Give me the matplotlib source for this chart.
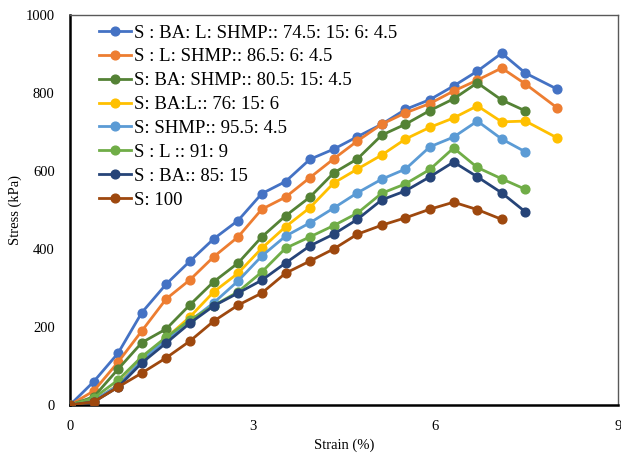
import matplotlib
matplotlib.use("Agg")
import matplotlib.pyplot as plt

strain = [0, 0.39, 0.79, 1.18, 1.58, 1.97, 2.36, 2.76, 3.15, 3.54, 3.94,
          4.33, 4.72, 5.12, 5.51, 5.91, 6.30, 6.69, 7.09, 7.48, 8.0]

labels = [
    "S : BA: L: SHMP:: 74.5: 15: 6: 4.5",
    "S : L: SHMP:: 86.5: 6: 4.5",
    "S: BA: SHMP:: 80.5: 15: 4.5",
    "S: BA:L:: 76: 15: 6",
    "S: SHMP:: 95.5: 4.5",
    "S : L :: 91: 9",
    "S : BA:: 85: 15",
    "S: 100",
]

s_ba_l_shmp = [0, 60, 133, 237, 310, 369, 426, 473, 542, 573, 630, 656, 688, 720,
               758, 783, 818, 856, 902, 851, 810]
s_l_shmp = [0, 36, 110, 190, 272, 321, 380, 431, 502, 533, 583, 631, 677, 720,
            749, 773, 805, 833, 864, 823, 762]
s_ba_shmp = [0, 21, 92, 160, 195, 257, 316, 364, 431, 485, 533, 595, 631, 692,
             720, 755, 785, 826, 782, 754]
s_ba_l = [0, 10, 52, 118, 172, 226, 290, 338, 402, 457, 506, 569, 605, 641,
          682, 712, 736, 767, 726, 728, 685]
s_shmp = [0, 12, 50, 115, 168, 215, 262, 318, 382, 433, 467, 505, 544, 579,
          605, 662, 687, 728, 682, 649]
s_l = [0, 18, 64, 124, 174, 218, 255, 290, 341, 402, 431, 460, 492, 543,
       567, 604, 659, 609, 580, 553]
s_ba = [0, 8, 46, 108, 159, 210, 254, 287, 320, 364, 408, 438, 476, 526,
        549, 585, 623, 585, 544, 495]
s_100 = [0, 8, 46, 82, 121, 164, 215, 256, 287, 338, 369, 400, 438, 461,
         480, 502, 520, 501, 476]

series = [s_ba_l_shmp, s_l_shmp, s_ba_shmp, s_ba_l, s_shmp, s_l, s_ba, s_100]
colors = ["#4472C4", "#ED7D31", "#548235", "#FFC000",
          "#5B9BD5", "#70AD47", "#264478", "#9E480E"]

plt.rcParams['font.family'] = ['Liberation Serif', 'DejaVu Serif']

fig = plt.figure(figsize=(6.21, 4.59), dpi=100)
ax = fig.add_axes([70/621, 1-405/459, 548/621, 390/459])

for ys, c, lab in zip(series, colors, labels):
    ax.plot(strain[:len(ys)], ys, color=c, lw=2.0, marker='o', ms=6.3,
            label=lab, zorder=3)

ax.set_xlim(0, 9)
ax.set_ylim(0, 1000)
ax.set_xticks([0, 3, 6, 9])
ax.set_yticks([0, 200, 400, 600, 800, 1000])
ax.tick_params(axis='y', length=0, labelsize=10.5, pad=11)
ax.tick_params(axis='x', length=0, labelsize=10.5, pad=11)
for side in ("left", "bottom"):
    ax.spines[side].set_linewidth(1.8)
    ax.spines[side].set_color("black")
for side in ("top", "right"):
    ax.spines[side].set_linewidth(1.0)
    ax.spines[side].set_color("#595959")

ax.set_xlabel("Strain (%)", fontsize=10.5)
ax.set_ylabel("Stress (kPa)", fontsize=10.5)
ax.yaxis.set_label_coords(-0.100, 0.5)
ax.xaxis.set_label_coords(0.5, -0.103)
ax.xaxis.label.set_va("center")
ax.yaxis.label.set_va("center")

leg = ax.legend(loc="upper left", bbox_to_anchor=(0.035, 1.0), frameon=False,
                fontsize=13.5, handlelength=1.75, handletextpad=0.12,
                labelspacing=0.36, borderaxespad=0.1)

fig.savefig("out.png", dpi=100)
